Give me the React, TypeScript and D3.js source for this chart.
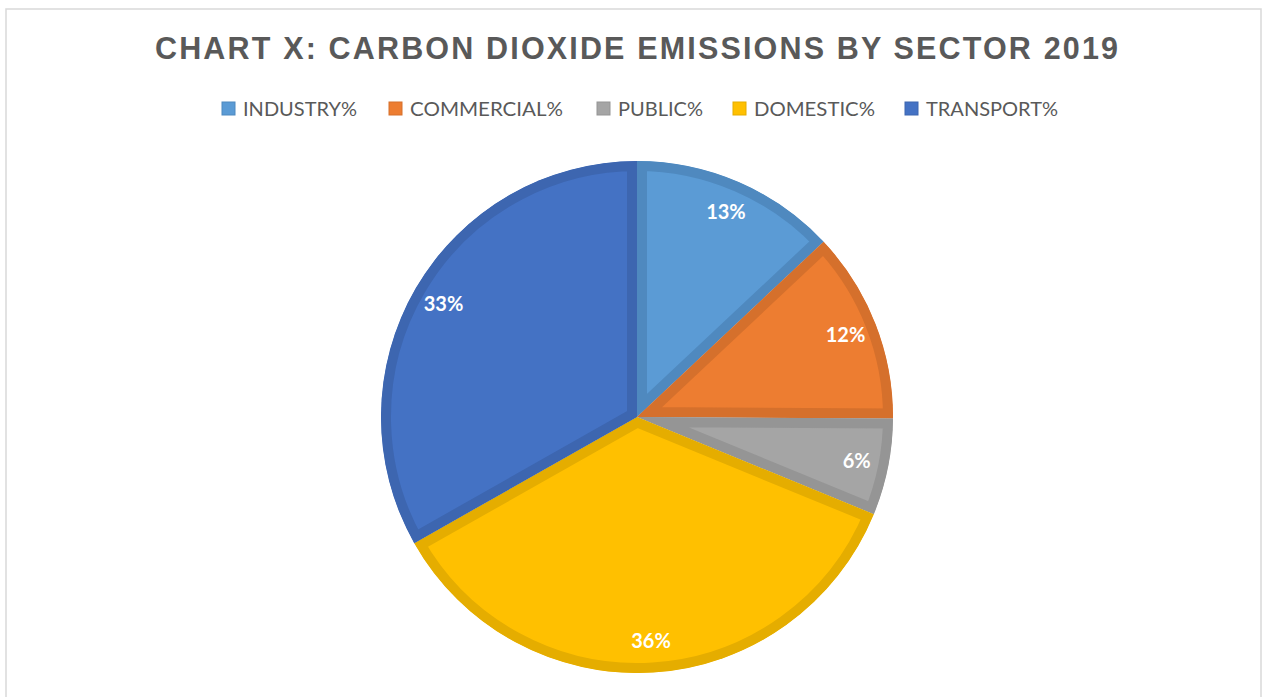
import React, { useRef, useEffect } from 'react';
import * as d3 from 'd3';

const sectors = ['INDUSTRY%', 'COMMERCIAL%', 'PUBLIC%', 'DOMESTIC%', 'TRANSPORT%'];
const shares = [13.0, 12.1, 6.1, 35.6, 33.2];
const fills = ['#5B9BD5', '#ED7D31', '#A5A5A5', '#FFC000', '#4472C4'];
const borders = ['#4F89BF', '#D5702C', '#959595', '#E5AD00', '#3D66B0'];
const title = 'CHART X: CARBON DIOXIDE EMISSIONS BY SECTOR 2019';

const WIDTH = 1266;
const HEIGHT = 697;

type Slice = { name: string; value: number; i: number };

const App: React.FC = () => {
  const ref = useRef<SVGSVGElement | null>(null);

  useEffect(() => {
    if (!ref.current) return;
    const svg = d3.select(ref.current);
    svg.selectAll('*').remove();

    // chart frame
    svg
      .append('rect')
      .attr('x', 6)
      .attr('y', 9)
      .attr('width', 1255)
      .attr('height', 720)
      .attr('fill', '#fff')
      .attr('stroke', '#D9D9D9')
      .attr('stroke-width', 1.5);

    // title
    svg
      .append('text')
      .attr('x', 155)
      .attr('y', 59)
      .attr('textLength', 963)
      .attr('lengthAdjust', 'spacing')
      .attr('font-family', '"Liberation Sans", Arial, sans-serif')
      .attr('font-weight', 'bold')
      .attr('font-size', 30.5)
      .attr('fill', '#595959')
      .text(title);

    // legend
    const legendX = [222, 389, 597, 733, 905];
    const legendW = [114, 153, 85, 121, 132];
    const legend = svg
      .append('g')
      .selectAll('g')
      .data(sectors)
      .join('g')
      .attr('transform', (_, i) => `translate(${legendX[i]},102)`);
    legend
      .append('rect')
      .attr('width', 13)
      .attr('height', 13)
      .attr('fill', (_, i) => fills[i])
      .attr('stroke', (_, i) => borders[i])
      .attr('stroke-width', 1);
    legend
      .append('text')
      .attr('x', 21)
      .attr('y', 13.5)
      .attr('textLength', (_, i) => legendW[i])
      .attr('lengthAdjust', 'spacingAndGlyphs')
      .attr('font-family', 'Lato, "Open Sans", sans-serif')
      .attr('font-size', 18.5)
      .attr('fill', '#595959')
      .text((d) => d);

    // pie
    const cx = 637;
    const cy = 417;
    const radius = 256;
    const data: Slice[] = sectors.map((name, i) => ({ name, value: shares[i], i }));
    const pie = d3
      .pie<Slice>()
      .value((d) => d.value)
      .sort(null);
    const arcs = pie(data);
    const arc = d3.arc<d3.PieArcDatum<Slice>>().innerRadius(0).outerRadius(radius);
    const labelArc = d3.arc<d3.PieArcDatum<Slice>>().innerRadius(224).outerRadius(224);

    const g = svg.append('g').attr('transform', `translate(${cx},${cy})`);
    const defs = svg.append('defs');
    defs
      .selectAll('clipPath')
      .data(arcs)
      .join('clipPath')
      .attr('id', (d) => `slice-clip-${d.data.i}`)
      .append('path')
      .attr('d', (d) => arc(d) as string);

    // slices with a darker inner border (stroke clipped to the slice)
    g.selectAll('path.slice')
      .data(arcs)
      .join('path')
      .attr('class', 'slice')
      .attr('d', (d) => arc(d) as string)
      .attr('fill', (d) => fills[d.data.i])
      .attr('stroke', (d) => borders[d.data.i])
      .attr('stroke-width', 20)
      .attr('stroke-linejoin', 'miter')
      .attr('clip-path', (d) => `url(#slice-clip-${d.data.i})`);

    g.selectAll('text.label')
      .data(arcs)
      .join('text')
      .attr('class', 'label')
      .attr('transform', (d) => `translate(${labelArc.centroid(d)})`)
      .attr('text-anchor', 'middle')
      .attr('dy', '0.36em')
      .attr('font-family', 'Lato, "Open Sans", sans-serif')
      .attr('font-weight', 'bold')
      .attr('font-size', 20)
      .attr('fill', '#fff')
      .text((d) => `${Math.round(d.data.value)}%`);
  }, []);

  return (
    <svg
      ref={ref}
      width={WIDTH}
      height={HEIGHT}
      style={{ position: 'absolute', left: 0, top: 0, display: 'block' }}
    />
  );
};

export default App;
